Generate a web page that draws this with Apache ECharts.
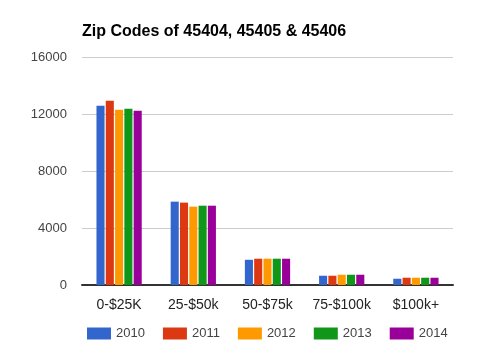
<!DOCTYPE html>
<html><head><meta charset="utf-8">
<script src="https://cdn.jsdelivr.net/npm/echarts@6/dist/echarts.min.js"></script>
<style>html,body{margin:0;padding:0;background:#fff}#c{width:497px;height:355px}</style>
</head><body><div id="c"></div>
<script>
const categories = ['0-$25K', '25-$50k', '50-$75k', '75-$100k', '$100k+'];
const years = ['2010', '2011', '2012', '2013', '2014'];
const v2010 = [12580, 5850, 1770, 650, 440];
const v2011 = [12930, 5780, 1845, 650, 510];
const v2012 = [12300, 5500, 1845, 720, 510];
const v2013 = [12370, 5565, 1845, 720, 510];
const v2014 = [12230, 5565, 1845, 720, 510];
const yTicks = [0, 4000, 8000, 12000, 16000];
const colors = ['#3366cc', '#dc3912', '#ff9900', '#109618', '#990099'];
const seriesValues = [v2010, v2011, v2012, v2013, v2014];
const FONT = 'Arial, "Liberation Sans", sans-serif';

const chart = echarts.init(document.getElementById('c'), null, {renderer: 'canvas'});
chart.setOption({
  animation: false,
  color: colors,
  title: {
    text: 'Zip Codes of 45404, 45405 & 45406',
    left: 82, top: 24, padding: 0,
    textStyle: {fontFamily: FONT, fontSize: 16, fontWeight: 'bold', color: '#000'}
  },
  legend: {
    top: 327, left: 87, padding: 0,
    itemWidth: 24, itemHeight: 12, itemGap: 18,
    icon: 'rect',
    textStyle: {fontFamily: FONT, fontSize: 13, color: '#444'},
    data: years
  },
  grid: {left: 82, right: 44, top: 57, bottom: 70, containLabel: false},
  xAxis: {
    type: 'category', data: categories,
    axisLine: {lineStyle: {color: '#333', width: 2}},
    axisTick: {show: false},
    axisLabel: {fontFamily: FONT, fontSize: 14, color: '#222', margin: 13, interval: 0}
  },
  yAxis: {
    type: 'value', min: yTicks[0], max: yTicks[yTicks.length-1], interval: 4000,
    axisLine: {show: false}, axisTick: {show: false},
    splitLine: {lineStyle: {color: '#cccccc', width: 1}},
    axisLabel: {fontFamily: FONT, fontSize: 13, color: '#444', margin: 15,
      formatter: v => String(v)}
  },
  series: years.map((y, i) => ({
    name: y, type: 'bar', data: seriesValues[i],
    barGap: '15%', barCategoryGap: '39%'
  }))
});
</script></body></html>
